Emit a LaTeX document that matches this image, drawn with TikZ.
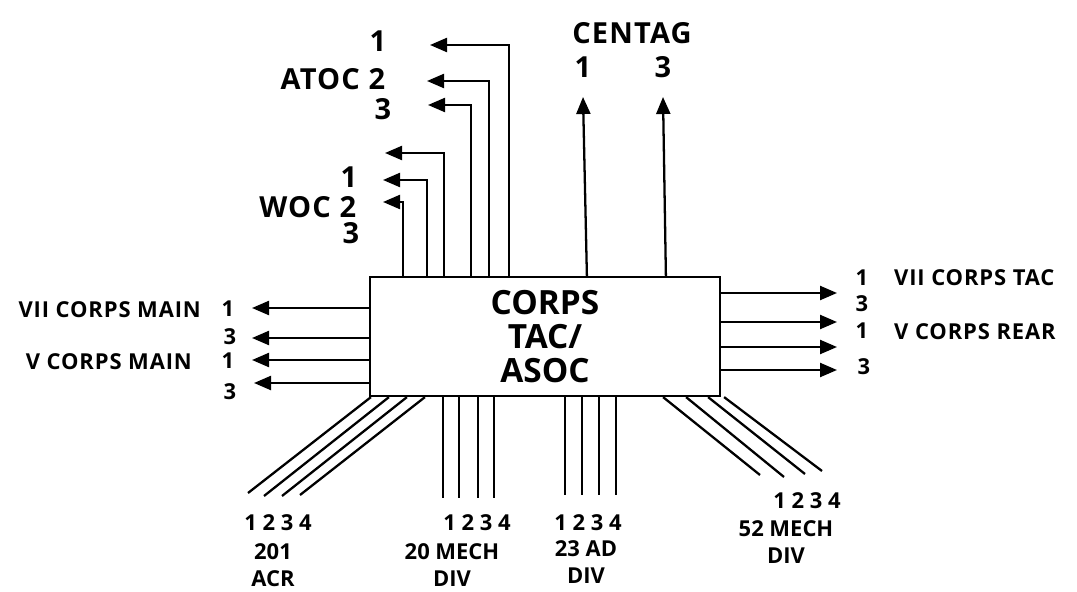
\documentclass[tikz,border=0pt]{standalone}
\usepackage{fontspec}
\setmainfont{Open Sans}
\usetikzlibrary{calc, positioning}
\usetikzlibrary{arrows.meta}

\begin{document}
\begin{tikzpicture}[x=0.02cm,y=-0.02cm,line width=1.3pt,
  link/.style={-{Triangle[length=0.34cm,width=0.28cm]}},
  boxtxt/.style={font=\fontsize{19}{19.3}\selectfont\bfseries},
  toptxt/.style={inner sep=0pt,font=\fontsize{16.5}{18}\selectfont\bfseries\addfontfeatures{LetterSpace=4}},
  sidetxt/.style={inner sep=0pt,font=\fontsize{12.5}{15}\selectfont\bfseries\addfontfeatures{LetterSpace=4}},
  bottxt/.style={inner sep=0pt,align=center,font=\fontsize{12.5}{15.3}\selectfont\bfseries}]
\useasboundingbox (0,0) rectangle (1077,591);

% central box
\node[draw, minimum width=7cm, minimum height=2.38cm, inner sep=0pt,
  align=center, boxtxt] (tac) at (545,336.5) {CORPS\\TAC/\\ASOC};

% arrow tips
\coordinate (atoc1) at (430,45);
\coordinate (atoc2) at (427,81);
\coordinate (atoc3) at (428,105);
\coordinate (woc1) at (385,153);
\coordinate (woc2) at (383,180);
\coordinate (woc3) at (383,202);
\coordinate (cen1) at (583,97);
\coordinate (cen3) at (663,97);
\coordinate (vii1) at (252,308);
\coordinate (vii3) at (252,338);
\coordinate (v1) at (252,360);
\coordinate (v3) at (254,383);
\coordinate (tac1) at (837,293);
\coordinate (tac3) at (837,322);
\coordinate (rear1) at (837,347);
\coordinate (rear3) at (837,370);

% up to ATOC, WOC and CENTAG
\draw[link] ($(tac.north west)+(140,0)$) |- (atoc1);
\draw[link] ($(tac.north west)+(120,0)$) |- (atoc2);
\draw[link] ($(tac.north west)+(102,0)$) |- (atoc3);
\draw[link] ($(tac.north west)+(75,0)$) |- (woc1);
\draw[link] ($(tac.north west)+(58,0)$) |- (woc2);
\draw[link] ($(tac.north west)+(34,0)$) |- (woc3);
\draw[link] ($(tac.north west)+(218,0)$) -- (cen1);
\draw[link] ($(tac.north west)+(297,0)$) -- (cen3);

% sideways
\draw[link] (tac.west |- vii1) -- (vii1);
\draw[link] (tac.west |- vii3) -- (vii3);
\draw[link] (tac.west |- v1) -- (v1);
\draw[link] (tac.west |- v3) -- (v3);
\draw[link] (tac.east |- tac1) -- (tac1);
\draw[link] (tac.east |- tac3) -- (tac3);
\draw[link] (tac.east |- rear1) -- (rear1);
\draw[link] (tac.east |- rear3) -- (rear3);

% lines down to the divisions
\coordinate (acr1) at (248,493);
\coordinate (acr2) at (264,496);
\coordinate (acr3) at (282,496);
\coordinate (acr4) at (300,495);
\draw ($(tac.south west)+(2,0)$) -- (acr1);
\draw ($(tac.south west)+(20,0)$) -- (acr2);
\draw ($(tac.south west)+(38,0)$) -- (acr3);
\draw ($(tac.south west)+(56,0)$) -- (acr4);
\coordinate (mech1) at (443,498);
\coordinate (mech2) at (459,498);
\coordinate (mech3) at (478,498);
\coordinate (mech4) at (494,498);
\draw (tac.south -| mech1) -- (mech1);
\draw (tac.south -| mech2) -- (mech2);
\draw (tac.south -| mech3) -- (mech3);
\draw (tac.south -| mech4) -- (mech4);
\coordinate (ad1) at (565,495);
\coordinate (ad2) at (582,495);
\coordinate (ad3) at (599,495);
\coordinate (ad4) at (616,495);
\draw (tac.south -| ad1) -- (ad1);
\draw (tac.south -| ad2) -- (ad2);
\draw (tac.south -| ad3) -- (ad3);
\draw (tac.south -| ad4) -- (ad4);
\coordinate (mfs1) at (760,475);
\coordinate (mfs2) at (784,477);
\coordinate (mfs3) at (805,474);
\coordinate (mfs4) at (822,471);
\draw ($(tac.south east)+(-58,0)$) -- (mfs1);
\draw ($(tac.south east)+(-35,0)$) -- (mfs2);
\draw ($(tac.south east)+(-13,0)$) -- (mfs3);
\draw ($(tac.south east)+(3,0)$) -- (mfs4);

% labels on top
\node[toptxt] (atocn1) at (378,41) {1};
\node[toptxt] (atocn2) at (377,79) {2};
\node[toptxt] (atocn3) at (383,109) {3};
\node[toptxt, anchor=east] (atoc) at (361,79) {ATOC};
\node[toptxt] (wocn1) at (349,177) {1};
\node[toptxt] (wocn2) at (348,207) {2};
\node[toptxt] (wocn3) at (351,233) {3};
\node[toptxt, anchor=east] (woc) at (332,207) {WOC};
\node[toptxt] (centag) at (632,33) {CENTAG};
\node[toptxt] (cenn1) at (583,67) {1};
\node[toptxt] (cenn3) at (663,67) {3};

% labels on the sides
\node[sidetxt, anchor=east] (viimain) at (202,310) {VII CORPS MAIN};
\node[sidetxt] (viin1) at (228,309) {1};
\node[sidetxt] (viin3) at (230,337) {3};
\node[sidetxt, anchor=east] (vmain) at (193,362) {V CORPS MAIN};
\node[sidetxt] (vn1) at (228,361) {1};
\node[sidetxt] (vn3) at (230,392) {3};
\node[sidetxt] (tacn1) at (862,278) {1};
\node[sidetxt] (tacn3) at (862,304) {3};
\node[sidetxt] (rearn1) at (862,331) {1};
\node[sidetxt] (rearn3) at (864,367) {3};
\node[sidetxt, anchor=west] (viitac) at (893,278) {VII CORPS TAC};
\node[sidetxt, anchor=west] (vrear) at (893,332) {V CORPS REAR};

% labels below
\node[bottxt] (acrn) at (278,523) {1 2 3 4};
\node[bottxt] (acr) at (273,565) {201\\ACR};
\node[bottxt] (mechn) at (477,523) {1 2 3 4};
\node[bottxt] (mech) at (452,565) {20 MECH\\DIV};
\node[bottxt] (adn) at (588,523) {1 2 3 4};
\node[bottxt] (ad) at (586,562) {23 AD\\DIV};
\node[bottxt] (mfsn) at (807,501) {1 2 3 4};
\node[bottxt] (mfs) at (786,542) {52 MECH\\DIV};
\end{tikzpicture}
\end{document}
